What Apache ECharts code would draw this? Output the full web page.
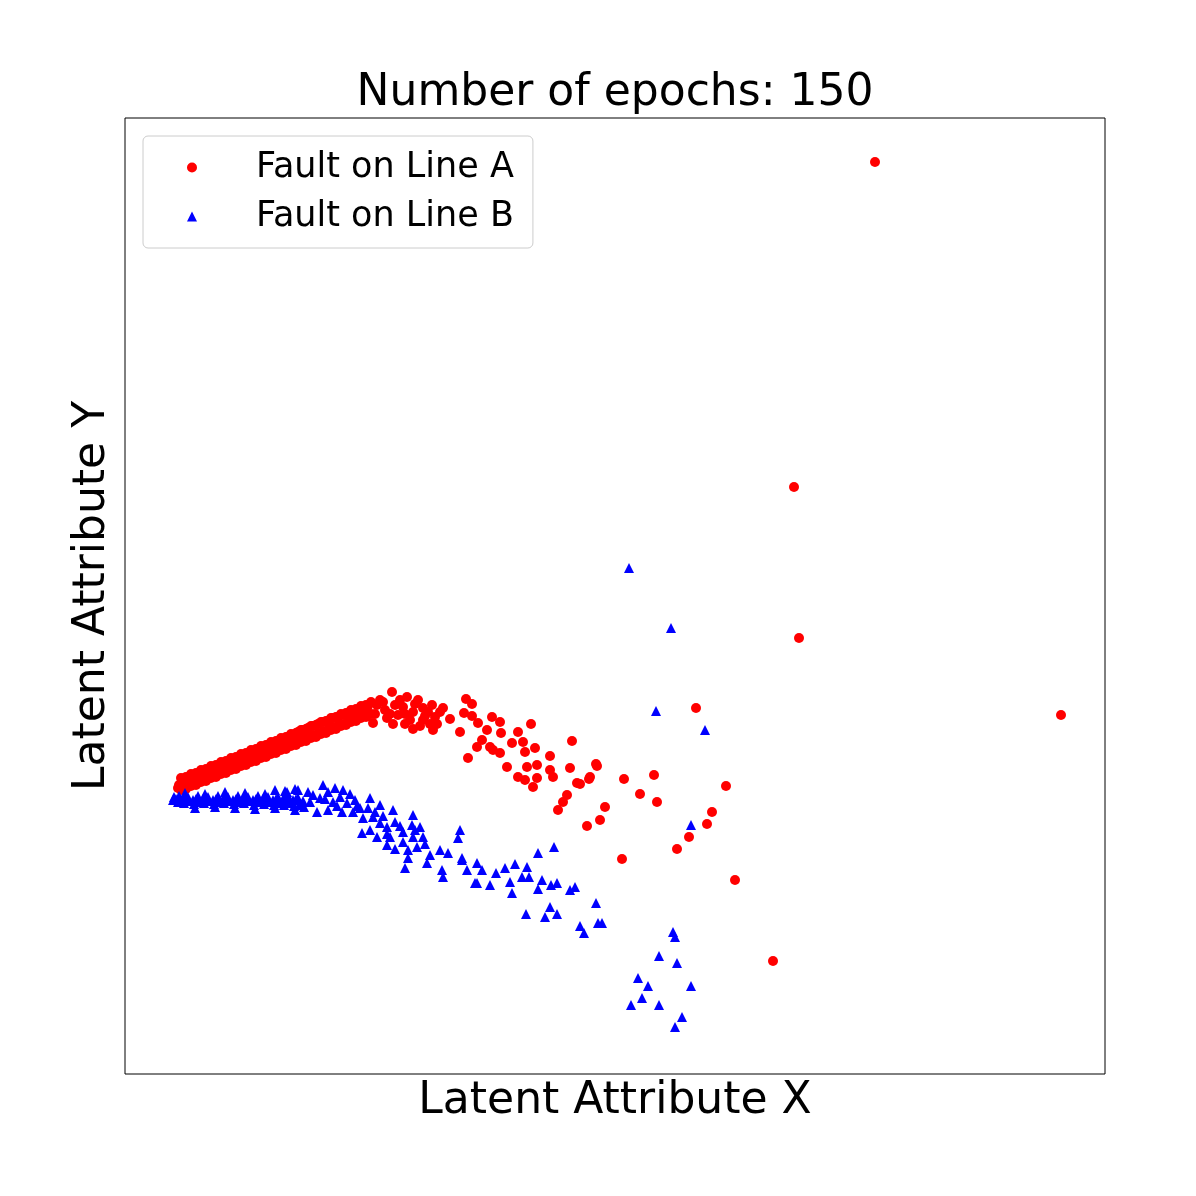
<!DOCTYPE html>
<html>
<head>
<meta charset="utf-8">
<title>Number of epochs: 150</title>
<script src="https://cdn.jsdelivr.net/npm/echarts@6/dist/echarts.min.js"></script>
<style>
  html, body { margin: 0; padding: 0; background: #fff; }
  #chart { width: 1196px; height: 1196px; }
</style>
</head>
<body>
<div id="chart"></div>
<script>
// Values, in latent units (no ticks shown in the original).
const titleText = 'Number of epochs: 150';
const seriesNames = ['Fault on Line A', 'Fault on Line B'];
const xRange = [0, 980];
const yRange = [0, 956];

// Fault on Line A (red circles)
const faultA = [
  [53, 286], [54, 289], [58, 290], [59, 285], [63, 292], [64, 288], [68, 295], [69, 290],
  [73, 297], [74, 292], [78, 299], [79, 294], [83, 301], [84, 296], [88, 304], [89, 298],
  [93, 306], [94, 301], [98, 308], [99, 303], [103, 311], [104, 305], [108, 313], [109, 307],
  [113, 315], [114, 310], [118, 317], [119, 312], [123, 320], [124, 314], [128, 322], [129, 317],
  [133, 325], [134, 319], [138, 326], [139, 321], [143, 329], [144, 323], [148, 330], [149, 326],
  [153, 333], [154, 328], [158, 335], [159, 330], [163, 337], [164, 332], [168, 339], [169, 333],
  [173, 342], [174, 335], [178, 344], [179, 337], [183, 346], [184, 338], [188, 348], [189, 339],
  [193, 350], [194, 341], [198, 352], [199, 343], [203, 353], [204, 345], [208, 356], [209, 347],
  [213, 357], [214, 349], [218, 359], [219, 350], [223, 361], [224, 353], [228, 363], [229, 355],
  [233, 364], [234, 356], [238, 366], [239, 358], [243, 368], [244, 360],
  [56, 296], [66, 300], [76, 304], [86, 308], [96, 312], [106, 316], [116, 320], [126, 324],
  [136, 328], [146, 332], [156, 336], [166, 340], [176, 344], [186, 348], [196, 352], [206, 356],
  [216, 360], [226, 364], [236, 368], [246, 372],
  [61, 285], [71, 289], [81, 293], [91, 297], [101, 301], [111, 305], [121, 309], [131, 313],
  [141, 317], [151, 321], [161, 325], [171, 329], [181, 333], [191, 337], [201, 341], [211, 345],
  [221, 349], [231, 353], [241, 357],
  [61, 297], [71, 301], [81, 305], [91, 309], [101, 313], [111, 317], [121, 321], [131, 325],
  [141, 329], [151, 333], [161, 337], [171, 341], [181, 345], [191, 349], [201, 353], [211, 357],
  [221, 361], [231, 365], [241, 369],
  [56, 284], [66, 288], [76, 292], [86, 296], [96, 300], [106, 304], [116, 308], [126, 312],
  [136, 316], [146, 320], [156, 324], [166, 328], [176, 332], [186, 336], [196, 340], [206, 344],
  [216, 348], [226, 352], [236, 356], [246, 360],
  [267, 382], [282, 377], [252, 369], [260, 364], [270, 369], [278, 367], [288, 362], [298, 366],
  [307, 369], [310, 357], [298, 354], [288, 345], [308, 344], [248, 351], [262, 356], [255, 374],
  [293, 374], [303, 362], [315, 362], [285, 354], [273, 359],
  [250, 360], [258, 372], [265, 360], [275, 374], [280, 360], [290, 370], [300, 358], [305, 350],
  [295, 348], [280, 350], [268, 350], [312, 350], [318, 366],
  [341, 375], [347, 370], [325, 355], [339, 361], [347, 358], [335, 342], [353, 351], [367, 357],
  [375, 352], [362, 344], [376, 341], [406, 350], [393, 342], [352, 327], [368, 324], [375, 321],
  [343, 316], [387, 331], [398, 332], [410, 326], [425, 318], [382, 307], [402, 307], [412, 309],
  [425, 304], [393, 297], [412, 296], [408, 287], [428, 297], [447, 333], [445, 306], [452, 291],
  [465, 297], [472, 308], [442, 279], [433, 264], [438, 272], [480, 267], [475, 254], [462, 248],
  [357, 334], [365, 327], [400, 322], [400, 294], [471, 310], [464, 295], [455, 290],
  [499, 295], [529, 299], [515, 280], [532, 272], [601, 288], [587, 262], [582, 250], [564, 237],
  [552, 225], [497, 215], [571, 366], [610, 194], [648, 113], [674, 436], [669, 587], [750, 912],
  [936, 359]
];

// Fault on Line B (blue triangles)
const faultB = [
  [48, 274], [49, 277], [53, 272], [54, 278], [58, 275], [59, 271], [63, 277], [64, 273],
  [68, 274], [69, 270], [73, 278], [74, 272], [78, 275], [79, 271], [83, 277], [84, 273],
  [88, 274], [89, 270], [93, 278], [94, 272], [98, 275], [99, 271], [103, 277], [104, 273],
  [108, 274], [109, 270], [113, 278], [114, 272], [118, 275], [119, 271], [123, 277], [124, 273],
  [128, 274], [129, 269], [133, 278], [134, 272], [138, 275], [139, 270], [143, 277], [144, 272],
  [148, 274], [149, 269], [153, 277], [154, 271], [158, 275], [159, 269], [163, 278], [164, 271],
  [168, 274], [169, 268], [173, 276], [174, 269], [178, 273], [179, 267],
  [51, 275], [61, 276], [71, 275], [81, 276], [91, 275], [101, 276], [111, 275], [121, 276],
  [131, 275], [141, 276], [151, 275], [161, 276], [171, 275],
  [60, 281], [80, 280], [100, 282], [120, 281], [140, 280], [150, 284], [160, 283], [170, 285],
  [70, 266], [90, 267], [110, 266], [130, 265], [150, 266], [170, 264],
  [162, 282], [183, 282], [185, 272], [198, 289], [195, 276], [203, 282], [210, 286], [218, 284],
  [208, 272], [222, 271], [217, 262], [228, 262], [203, 264], [192, 262], [245, 276], [243, 266],
  [255, 269], [268, 264], [238, 256], [248, 257], [255, 251], [262, 247], [237, 241], [245, 244],
  [252, 237], [262, 229], [265, 237], [288, 259], [287, 249], [295, 247], [278, 242], [288, 237],
  [298, 237], [278, 232], [292, 227], [283, 224], [283, 216], [302, 211], [280, 206],
  [173, 284], [188, 279], [215, 277], [230, 274], [235, 266],
  [200, 275], [212, 268], [225, 280], [232, 268], [250, 262], [258, 258], [270, 252], [275, 248],
  [262, 240], [290, 244], [300, 230], [270, 225],
  [335, 244], [333, 236], [305, 219], [315, 224], [323, 221], [317, 204], [318, 197], [337, 214],
  [342, 204], [352, 211], [352, 191], [337, 216], [357, 204], [350, 191], [365, 189], [371, 201],
  [380, 206], [390, 210], [402, 207], [413, 221], [429, 227], [385, 192], [397, 197], [404, 197],
  [387, 181], [417, 194], [413, 185], [426, 189], [432, 191], [445, 184], [450, 187], [401, 160],
  [425, 167], [420, 157], [432, 160], [471, 171], [455, 148], [459, 141], [473, 151], [477, 151],
  [504, 506], [546, 446], [531, 363], [580, 344], [566, 249], [548, 142], [550, 137], [534, 118],
  [552, 111], [513, 96], [523, 88], [566, 88], [517, 76], [506, 69], [534, 69], [557, 57],
  [550, 47]
];

const chart = echarts.init(document.getElementById('chart'), null, { renderer: 'canvas' });
const font = 'DejaVu Sans';

chart.setOption({
  animation: false,
  backgroundColor: '#fff',
  textStyle: { fontFamily: font },
  title: {
    text: titleText,
    left: 615,
    top: 72,
    padding: 0,
    textAlign: 'center',
    textStyle: { fontFamily: font, fontSize: 44, fontWeight: 'normal', color: '#000' }
  },
  legend: {
    data: seriesNames,
    orient: 'vertical',
    left: 143,
    top: 136,
    padding: [14, 19, 14, 44],
    itemWidth: 10,
    itemHeight: 10,
    itemGap: 14,
    backgroundColor: '#fff',
    borderColor: '#cccccc',
    borderWidth: 1,
    borderRadius: 5,
    textStyle: {
      fontFamily: font,
      fontSize: 35,
      lineHeight: 35,
      color: '#000',
      padding: [0, 0, 0, 54]
    }
  },
  grid: {
    left: 125,
    top: 118,
    right: 91,
    bottom: 122,
    show: true,
    borderColor: '#000',
    borderWidth: 1
  },
  xAxis: {
    type: 'value',
    min: xRange[0],
    max: xRange[1],
    name: 'Latent Attribute X',
    nameLocation: 'middle',
    nameGap: 6,
    nameTextStyle: { fontFamily: font, fontSize: 44, color: '#000' },
    axisLine: { show: false },
    axisTick: { show: false },
    axisLabel: { show: false },
    splitLine: { show: false }
  },
  yAxis: {
    type: 'value',
    min: yRange[0],
    max: yRange[1],
    name: 'Latent Attribute Y',
    nameLocation: 'middle',
    nameRotate: 90,
    nameGap: 10,
    nameTextStyle: { fontFamily: font, fontSize: 44, color: '#000' },
    axisLine: { show: false },
    axisTick: { show: false },
    axisLabel: { show: false },
    splitLine: { show: false }
  },
  series: [
    {
      name: seriesNames[0],
      type: 'scatter',
      symbol: 'circle',
      symbolSize: 10,
      itemStyle: { color: '#ff0000', opacity: 1 },
      data: faultA
    },
    {
      name: seriesNames[1],
      type: 'scatter',
      symbol: 'triangle',
      symbolSize: 10,
      itemStyle: { color: '#0000ff', opacity: 1 },
      data: faultB
    }
  ]
});
</script>
</body>
</html>
